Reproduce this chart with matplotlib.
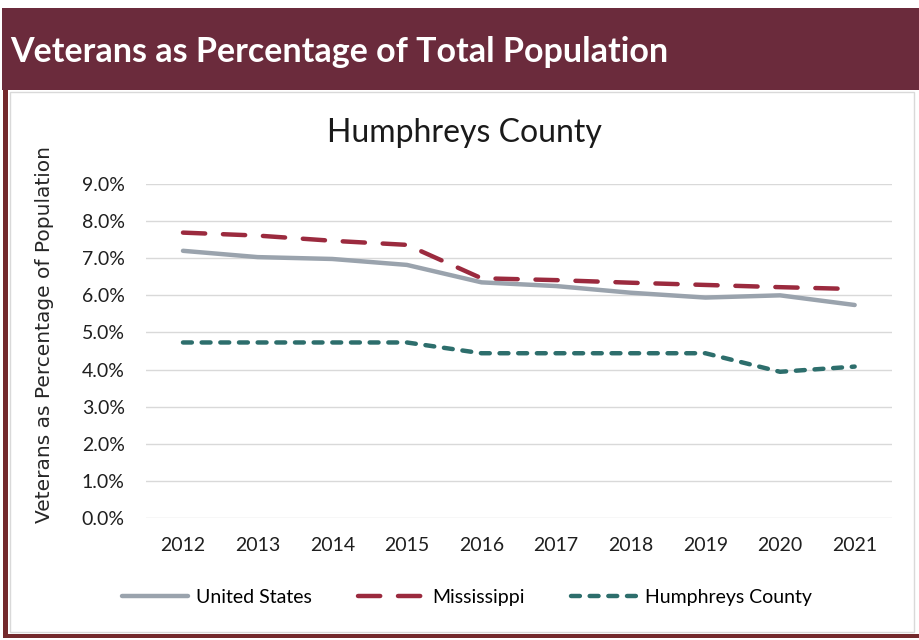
import matplotlib.pyplot as plt
from matplotlib.patches import Rectangle
from matplotlib.ticker import FuncFormatter

plt.rcParams['font.family'] = ['Lato', 'DejaVu Sans']

years = ["2012", "2013", "2014", "2015", "2016", "2017", "2018", "2019", "2020", "2021"]
united_states = [7.2, 7.03, 6.98, 6.82, 6.35, 6.25, 6.07, 5.94, 6.0, 5.74]
mississippi = [7.69, 7.61, 7.47, 7.36, 6.46, 6.41, 6.34, 6.28, 6.22, 6.17]
humphreys = [4.73, 4.73, 4.73, 4.73, 4.44, 4.44, 4.44, 4.44, 3.94, 4.08]

maroon = "#6B2B3C"
border = "#74292C"


def add_rect(fig, xy, w, h, **kw):
    fig.patches.append(Rectangle(xy, w, h, transform=fig.transFigure, zorder=-5, **kw))


def main():
    fig = plt.figure(figsize=(9.19, 6.40), dpi=100)

    # header band and frame
    add_rect(fig, (0.002, 0.859), 0.998, 0.1285, facecolor=maroon, edgecolor="none")
    add_rect(fig, (0.003, 0.003), 0.006, 0.857, facecolor=border, edgecolor="none")
    add_rect(fig, (0.003, 0.003), 0.997, 0.007, facecolor=border, edgecolor="none")
    add_rect(fig, (0.011, 0.013), 0.984, 0.843, facecolor="white", edgecolor="#D9D9D9", linewidth=1)

    fig.text(0.011, 0.919, "Veterans as Percentage of Total Population", color="white",
             fontsize=24.5, fontweight="bold", va="center", ha="left")

    ax = fig.add_axes([0.1585, 0.1906, 0.8121, 0.5219])
    x = range(len(years))
    ax.plot(x, united_states, color="#9AA3AD", linewidth=3.2, solid_capstyle="round",
            label="United States")
    ax.plot(x, mississippi, color="#9B2A3E", linewidth=3.2, dashes=(5.0, 4.0),
            dash_capstyle="round", label="Mississippi")
    ax.plot(x, humphreys, color="#2D6E6C", linewidth=3.2, dashes=(2.0, 2.2),
            dash_capstyle="round", label="Humphreys County")

    ax.set_xlim(-0.5, len(years) - 0.5)
    ax.set_ylim(0, 9)
    ax.set_yticks([i for i in range(10)])
    ax.yaxis.set_major_formatter(FuncFormatter(lambda v, p: f"{v:.1f}%"))
    ax.set_xticks(list(x))
    ax.set_xticklabels(years)
    ax.grid(axis="y", color="#D9D9D9", linewidth=1)
    ax.set_axisbelow(True)
    for s in ax.spines.values():
        s.set_visible(False)
    ax.tick_params(length=0, labelsize=14, colors="#1f1f1f")
    ax.tick_params(axis="y", pad=15)
    ax.tick_params(axis="x", pad=14)

    # chart title sits centred on the whole chart box, not the plot area
    fig.text(0.505, 0.792, "Humphreys County", fontsize=23, color="#1a1a1a",
             ha="center", va="center")
    fig.text(0.048, 0.477, "Veterans as Percentage of Population", rotation=90,
             fontsize=14.5, color="#262626", ha="center", va="center", family="DejaVu Sans")

    fig.legend(loc="center", bbox_to_anchor=(0.508, 0.066), ncol=3, frameon=False,
               fontsize=14, handlelength=3.4, columnspacing=2.4, handletextpad=0.4)

    plt.savefig("out.png", dpi=100)
    plt.close()


main()
